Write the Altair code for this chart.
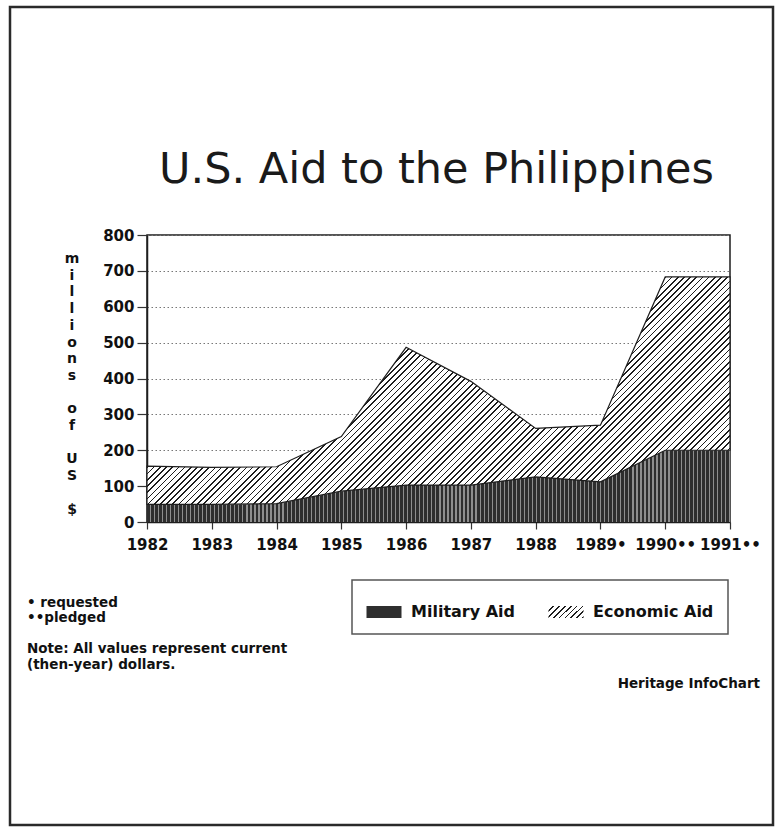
import altair as alt
import pandas as pd

# ---- data ----
years = ["1982", "1983", "1984", "1985", "1986", "1987", "1988", "1989•", "1990••", "1991••"]
military = [49, 49, 51, 86, 103, 103, 126, 112, 200, 200]
economic = [107, 103, 103, 152, 384, 289, 135, 158, 483, 483]
series = ["Military Aid", "Economic Aid"]
y_ticks = [0, 100, 200, 300, 400, 500, 600, 700, 800]
y_title_words = ["millions", "of", "US", "$"]
title_text = "U.S. Aid to the Philippines"
notes = ["• requested", "••pledged", "Note: All values represent current", "(then-year) dollars."]
credit = "Heritage InfoChart"

df = pd.DataFrame({"year": years, "Military Aid": military, "Economic Aid": economic})

W, H = 583, 287
FONT = "DejaVu Sans"
MIL_DARK = "#2e2e2e"


def stripes(n, bg, fg, frac, x2, y2):
    stops = []
    for i in range(n):
        a = i / n
        b = (i + 1 - frac) / n
        c = (i + 1) / n
        stops += [
            {"offset": round(a, 5), "color": bg},
            {"offset": round(b, 5), "color": bg},
            {"offset": round(b, 5), "color": fg},
            {"offset": round(c, 5), "color": fg},
        ]
    return {"gradient": "linear", "x1": 0, "y1": 0, "x2": round(x2, 5), "y2": round(y2, 5), "stops": stops}


def diag(w, h, spacing):
    k = (w + h) * w / (w * w + h * h)
    n = int(round((w + h) / spacing))
    return k, k * h / w, n


def as_expr(g):
    stops = ",".join("{offset:%s,color:'%s'}" % (s["offset"], s["color"]) for s in g["stops"])
    return "{gradient:'linear',x1:%s,y1:%s,x2:%s,y2:%s,stops:[%s]}" % (
        g["x1"], g["y1"], g["x2"], g["y2"], stops)


# economic hatch: "/" lines on white
eh = (683 - 49) * H / 800
ex2, ey2, en = diag(W, eh, 6.2)
econ_fill = stripes(en, "#ffffff", "#1e1e1e", 0.27, ex2, ey2)
# military: dark with thin vertical light lines
mil_fill = stripes(int(W / 4), MIL_DARK, "#8e8e8e", 0.3, 1, 0)
# legend swatch hatch
sx2, sy2, sn = diag(35, 12, 6)
econ_swatch = stripes(sn, "#ffffff", "#1e1e1e", 0.3, sx2, sy2)
swatch_expr = "(datum.value === 'Economic Aid' || datum.series === 'Economic Aid') ? %s : '%s'" % (
    as_expr(econ_swatch), MIL_DARK)

x_enc = alt.X("year:O", sort=years, scale=alt.Scale(type="point", padding=0),
              axis=alt.Axis(title=None, labelAngle=0, tickSize=7, labelPadding=8,
                            labelFont=FONT, labelFontWeight="bold", labelFontSize=15,
                            labelColor="#111", grid=False))

y_axis = alt.Axis(
    values=y_ticks, title=None, labelOverlap=False,
    labelFont=FONT, labelFontWeight="bold", labelFontSize=15, labelColor="#111",
    tickSize=10, labelPadding=3, grid=True, gridColor="#777", gridDash=[1.5, 2.5], gridWidth=1,
)
y_scale = alt.Scale(domain=[0, 800])

base = alt.Chart(df).encode(x=x_enc)

mil = base.mark_area(fill=mil_fill).encode(
    y=alt.Y("Military Aid:Q", scale=y_scale, axis=y_axis),
)

econ = base.transform_calculate(total="datum['Military Aid'] + datum['Economic Aid']").mark_area(
    fill=econ_fill, stroke="#1e1e1e", strokeWidth=1.2
).encode(
    y=alt.Y("total:Q", scale=y_scale, axis=y_axis),
    y2="Military Aid:Q",
)

rect_path = "M-1,-0.34H1V0.34H-1Z"
legend_layer = base.transform_fold(series, as_=["series", "value"]).mark_point(
    filled=True, opacity=0, fill=alt.ExprRef(swatch_expr)
).encode(
    y=alt.Y("value:Q", scale=y_scale, axis=y_axis),
    shape=alt.Shape(
        "series:N", scale=alt.Scale(domain=series, range=[rect_path, rect_path]),
        legend=alt.Legend(
            orient="none", legendX=205, legendY=345, direction="horizontal", columns=2,
            title=None, symbolSize=1225, symbolOpacity=1,
            symbolStrokeColor="#1e1e1e", symbolStrokeWidth=1,
            labelFont=FONT, labelFontWeight="bold", labelFontSize=16, labelColor="#111",
            labelOffset=9, columnPadding=30, padding=14, strokeColor="#555", fillColor="#ffffff",
        ),
    ),
)

one = alt.InlineData(values=[{"k": 1}])

frame = alt.Chart(one).mark_rect(fill=None, stroke="#2a2a2a", strokeWidth=2.5).encode(
    x=alt.value(-137), x2=alt.value(626), y=alt.value(-228), y2=alt.value(590)
)

title_layer = alt.Chart(one).mark_text(align="left", baseline="alphabetic", font=FONT, fontSize=43,
                                       color="#1a1a1a").encode(
    x=alt.value(12), y=alt.value(-52), text=alt.value(title_text))

# vertical, stacked-letter y-axis title
LH = 16.7
ytitle_layers = []
line_no = 0
for word in y_title_words:
    ytitle_layers.append(
        alt.Chart(one).mark_text(align="center", baseline="alphabetic", font=FONT, fontWeight="bold",
                                 fontSize=14, color="#111", lineHeight=LH).encode(
            x=alt.value(-75), y=alt.value(28 + LH * line_no), text=alt.value(list(word)))
    )
    line_no += len(word) + 1

note_layers = []
note_y = [368, 383, 414, 430]
for txt, yy in zip(notes, note_y):
    note_layers.append(
        alt.Chart(one).mark_text(align="left", baseline="middle", font=FONT, fontWeight="bold",
                                 fontSize=13.5, color="#111").encode(
            x=alt.value(-120), y=alt.value(yy), text=alt.value(txt))
    )
credit_layer = alt.Chart(one).mark_text(align="right", baseline="middle", font=FONT, fontWeight="bold",
                                        fontSize=13.5, color="#111").encode(
    x=alt.value(613), y=alt.value(449), text=alt.value(credit))

chart = alt.layer(mil, econ, legend_layer, frame, title_layer, *ytitle_layers, *note_layers,
                  credit_layer).properties(
    width=W, height=H,
    autosize=alt.AutoSizeParams(type="none"),
    padding={"left": 147, "top": 235, "right": 46, "bottom": 305},
    background="white",
).configure_view(stroke="#1e1e1e", strokeWidth=1.5).configure_axis(
    domainColor="#1e1e1e", domainWidth=1.5, tickColor="#333", tickWidth=1.2
).configure_legend(strokeWidth=1.5)

chart.save("out.html", embed_options={"renderer": "svg", "actions": False})
